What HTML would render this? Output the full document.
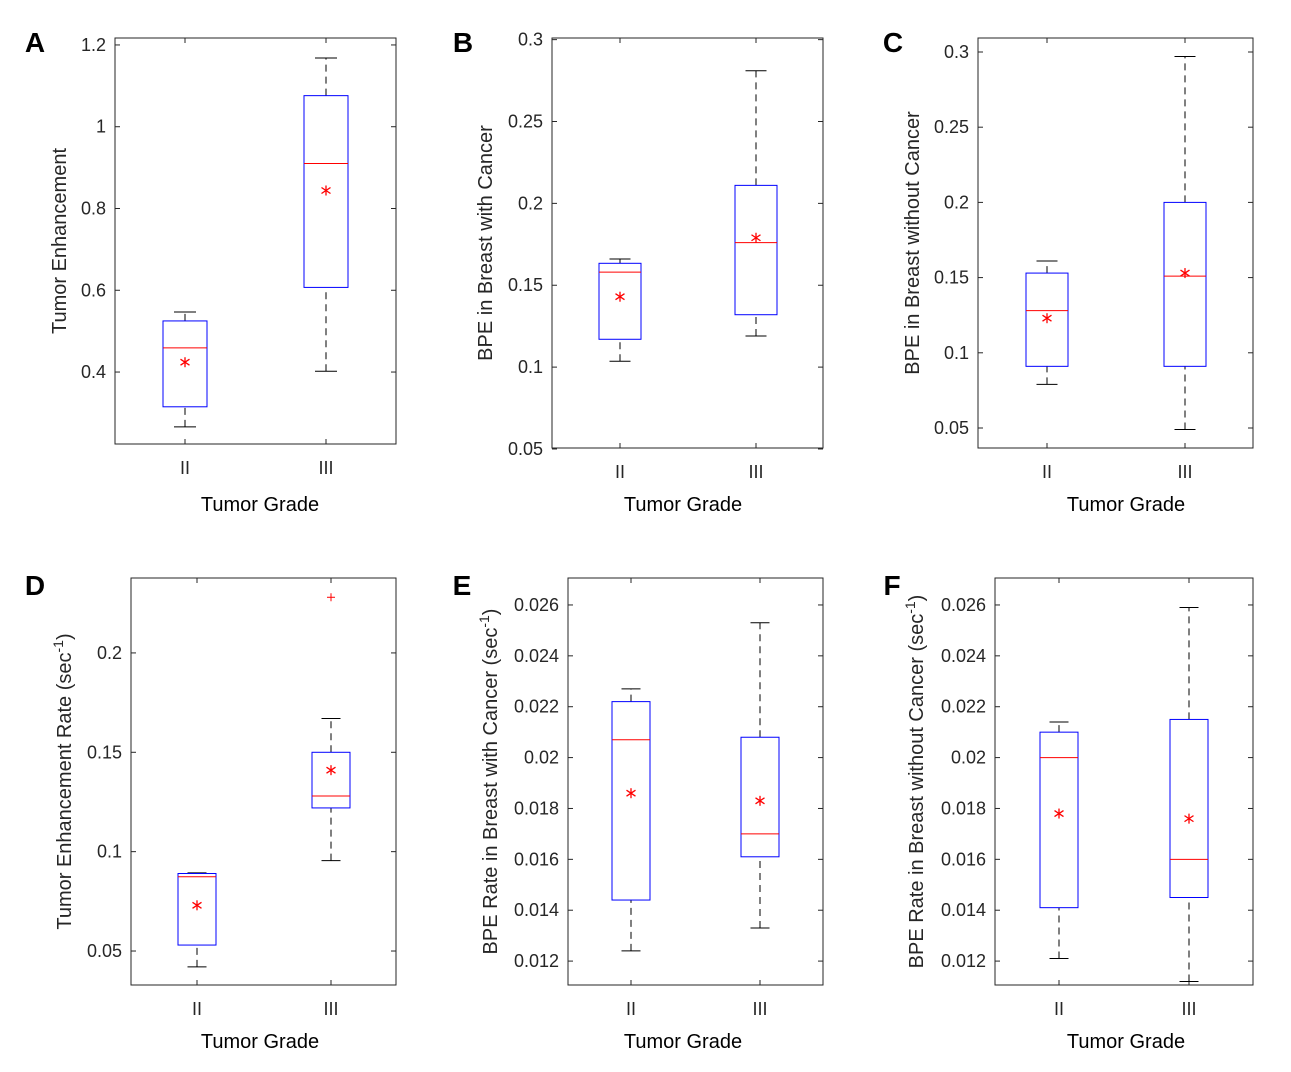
<!DOCTYPE html>
<html><head><meta charset="utf-8"><style>
body{margin:0;background:#fff;}
svg{display:block;font-family:"Liberation Sans",Arial,sans-serif;}
</style></head><body>
<svg id="fig" width="1291" height="1072" viewBox="0 0 1291 1072"></svg>
<script>
const categories = ["II","III"];
// per panel: [low whisker, q1, median, q3, high whisker, mean] per category
const panelA_II = [0.266,0.315,0.459,0.525,0.547,0.424];
const panelA_III = [0.402,0.607,0.910,1.076,1.168,0.844];
const panelB_II = [0.1036,0.117,0.158,0.1634,0.166,0.143];
const panelB_III = [0.119,0.132,0.176,0.211,0.281,0.179];
const panelC_II = [0.079,0.091,0.128,0.153,0.161,0.123];
const panelC_III = [0.049,0.091,0.151,0.200,0.297,0.153];
const panelD_II = [0.042,0.053,0.0874,0.089,0.0893,0.073];
const panelD_III = [0.0955,0.122,0.128,0.150,0.167,0.141];
const panelD_outliers_III = [0.228];
const panelE_II = [0.0124,0.0144,0.0207,0.0222,0.0227,0.0186];
const panelE_III = [0.0133,0.0161,0.0170,0.0208,0.0253,0.0183];
const panelF_II = [0.0121,0.0141,0.0200,0.0210,0.0214,0.0178];
const panelF_III = [0.0112,0.0145,0.0160,0.0215,0.0259,0.0176];
const ticksA = ["0.4","0.6","0.8","1","1.2"];
const ticksBC = ["0.05","0.1","0.15","0.2","0.25","0.3"];
const ticksD = ["0.05","0.1","0.15","0.2"];
const ticksEF = ["0.012","0.014","0.016","0.018","0.02","0.022","0.024","0.026"];

const panels = [
 {id:"a",letter:"A",x0:115,x1:396,y0:38,y1:444,min:0.224,max:1.217,ticks:ticksA,data:[panelA_II,panelA_III],out:[[],[]],cx:[185,326],bw:44,ylab:"Tumor Enhancement",sup:false,lx:35,ly:52,labx:66,xlab:[260,504]},
 {id:"b",letter:"B",x0:552,x1:823,y0:38,y1:448,min:0.0506,max:0.301,ticks:ticksBC,data:[panelB_II,panelB_III],out:[[],[]],cx:[620,756],bw:42,ylab:"BPE in Breast with Cancer",sup:false,lx:463,ly:52,labx:492,xlab:[683,504]},
 {id:"c",letter:"C",x0:978,x1:1253,y0:38,y1:448,min:0.0367,max:0.3093,ticks:ticksBC,data:[panelC_II,panelC_III],out:[[],[]],cx:[1047,1185],bw:42,ylab:"BPE in Breast without Cancer",sup:false,lx:893,ly:52,labx:919,xlab:[1126,504]},
 {id:"d",letter:"D",x0:131,x1:396,y0:578,y1:985,min:0.0329,max:0.2377,ticks:ticksD,data:[panelD_II,panelD_III],out:[[],panelD_outliers_III],cx:[197,331],bw:38,ylab:"Tumor Enhancement Rate (sec",sup:true,lx:35,ly:595,labx:71,xlab:[260,1041]},
 {id:"e",letter:"E",x0:568,x1:823,y0:578,y1:985,min:0.01106,max:0.02706,ticks:ticksEF,data:[panelE_II,panelE_III],out:[[],[]],cx:[631,760],bw:38,ylab:"BPE Rate in Breast with Cancer (sec",sup:true,lx:462,ly:595,labx:497,xlab:[683,1041]},
 {id:"f",letter:"F",x0:995,x1:1253,y0:578,y1:985,min:0.01106,max:0.02706,ticks:ticksEF,data:[panelF_II,panelF_III],out:[[],[]],cx:[1059,1189],bw:38,ylab:"BPE Rate in Breast without Cancer (sec",sup:true,lx:892,ly:595,labx:923,xlab:[1126,1041]}
];
const NS="http://www.w3.org/2000/svg";
const svg=document.getElementById("fig");
function mk(tag,attrs,parent,txt){const e=document.createElementNS(NS,tag);for(const k in attrs)e.setAttribute(k,attrs[k]);if(txt!==undefined)e.textContent=txt;(parent||svg).appendChild(e);return e;}
panels.forEach(p=>{
 const g=mk("g",{});
 
 
 const Y=v=>p.y1-(v-p.min)/(p.max-p.min)*(p.y1-p.y0);
 const fr=mk("rect",{x:p.x0,y:p.y0,width:p.x1-p.x0,height:p.y1-p.y0,fill:"none",stroke:"#262626","stroke-width":1},g);
 
 
 p.ticks.forEach(t=>{
  const y=Y(parseFloat(t));
  mk("line",{x1:p.x0,x2:p.x0+5,y1:y,y2:y,stroke:"#262626"},g);
  mk("line",{x1:p.x1,x2:p.x1-5,y1:y,y2:y,stroke:"#262626"},g);
  const tl=mk("text",{x:p.x0-9,y:y+6,"text-anchor":"end","font-size":18,fill:"#262626"},g,t);
  
  
 });
 categories.forEach((c,i)=>{
  const x=p.cx[i];
  mk("line",{x1:x,x2:x,y1:p.y1,y2:p.y1-5,stroke:"#262626"},g);
  mk("line",{x1:x,x2:x,y1:p.y0,y2:p.y0+5,stroke:"#262626"},g);
  const xl=mk("text",{x:x,y:p.y1+30,"text-anchor":"middle","font-size":18,fill:"#262626"},g,c);
  
  
  const d=p.data[i];const hw=p.bw/2,cw=p.bw/4;
  const bg=mk("g",{},g);
  
  
  mk("line",{x1:x,x2:x,y1:Y(d[0]),y2:Y(d[1]),stroke:"#000","stroke-dasharray":"7,5"},bg);
  mk("line",{x1:x,x2:x,y1:Y(d[3]),y2:Y(d[4]),stroke:"#000","stroke-dasharray":"7,5"},bg);
  mk("line",{x1:x-cw,x2:x+cw,y1:Y(d[0]),y2:Y(d[0]),stroke:"#000"},bg);
  mk("line",{x1:x-cw,x2:x+cw,y1:Y(d[4]),y2:Y(d[4]),stroke:"#000"},bg);
  mk("rect",{x:x-hw,y:Y(d[3]),width:p.bw,height:Y(d[1])-Y(d[3]),fill:"none",stroke:"#0000ff"},bg);
  mk("line",{x1:x-hw,x2:x+hw,y1:Y(d[2]),y2:Y(d[2]),stroke:"#ff0000"},bg);
  const my=Y(d[5]);
  const m=mk("g",{stroke:"#ff0000","stroke-width":1.3},bg);
  
  
  mk("line",{x1:x,x2:x,y1:my-5,y2:my+5},m);
  mk("line",{x1:x-4.5,x2:x+4.5,y1:my-3,y2:my+3},m);
  mk("line",{x1:x-4.5,x2:x+4.5,y1:my+3,y2:my-3},m);
  p.out[i].forEach(o=>{
   const oy=Y(o);
   mk("line",{x1:x-4,x2:x+4,y1:oy,y2:oy,stroke:"#ff0000"},bg);
   mk("line",{x1:x,x2:x,y1:oy-4,y2:oy+4,stroke:"#ff0000"},bg);
  });
 });
 const cyc=(p.y0+p.y1)/2;
 const yl=mk("text",{x:0,y:0,transform:`translate(${p.labx},${cyc}) rotate(-90)`,"text-anchor":"middle","font-size":20,fill:"#262626"},g);
 
 
 mk("tspan",{},yl,p.ylab);
 if(p.sup){mk("tspan",{"font-size":14,dy:-8},yl,"-1");mk("tspan",{dy:8},yl,")");}
 const xt=mk("text",{x:p.xlab[0],y:p.xlab[1]+7,"text-anchor":"middle","font-size":20,fill:"#000"},g,"Tumor Grade");
 
 
 const L=mk("text",{x:p.lx,y:p.ly,"text-anchor":"middle","font-size":28,"font-weight":"bold",fill:"#000"},g,p.letter);
 
 
});
</script>
</body></html>
